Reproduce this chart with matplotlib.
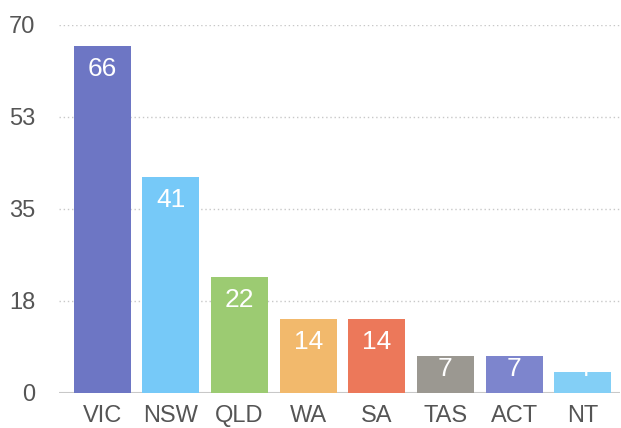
import matplotlib.pyplot as plt

states = ["VIC", "NSW", "QLD", "WA", "SA", "TAS", "ACT", "NT"]
counts = [66, 41, 22, 14, 14, 7, 7, 4]
colors = ["#6d76c4", "#76c9f8", "#9ccb72", "#f2b96c", "#ec785a", "#9b9891", "#7d85cd", "#83cff6"]
tick_vals = [0, 17.5, 35, 52.5, 70]
tick_labels = ["0", "18", "35", "53", "70"]

plt.rcParams['font.family'] = ['Liberation Sans', 'DejaVu Sans']

fig = plt.figure(figsize=(6.21, 4.28), dpi=100)
ax = fig.add_axes([0.095, 0.082, 0.903, 0.86])

x = range(len(states))
bars = ax.bar(x, counts, width=0.83, color=colors, zorder=3)

ax.set_ylim(0, 70)
ax.set_xlim(-0.63, 7.54)

# labels sit just under the bar top; on short bars they are pushed up
# from the baseline and get cut off by the bar edge
for b, v in zip(bars, counts):
    cx = b.get_x() + b.get_width() / 2
    h_px = ax.transData.transform((0, v))[1] - ax.transData.transform((0, 0))[1]
    if h_px < 47:
        t = ax.annotate(str(v), (cx, 0), xytext=(0, 12), textcoords="offset points",
                        ha="center", va="baseline", color="white", fontsize=19, zorder=4)
    else:
        t = ax.annotate(str(v), (cx, v), xytext=(0, -8), textcoords="offset points",
                        ha="center", va="top", color="white", fontsize=19, zorder=4)
    t.set_clip_path(b)

ax.set_yticks(tick_vals)
ax.set_yticklabels(tick_labels)
ax.set_xticks(list(x))
ax.set_xticklabels(states)
ax.tick_params(length=0, labelsize=17, colors="#555555")
ax.tick_params(axis="y", pad=17)
ax.tick_params(axis="x", pad=9)

for v in tick_vals[1:]:
    ax.axhline(v, color="#c8c8c8", linestyle=(0, (1, 2)), linewidth=1, zorder=1)
ax.axhline(0, color="#c8c8c8", linewidth=1.5, zorder=2)

for s in ax.spines.values():
    s.set_visible(False)

fig.savefig("out.png", dpi=100)
